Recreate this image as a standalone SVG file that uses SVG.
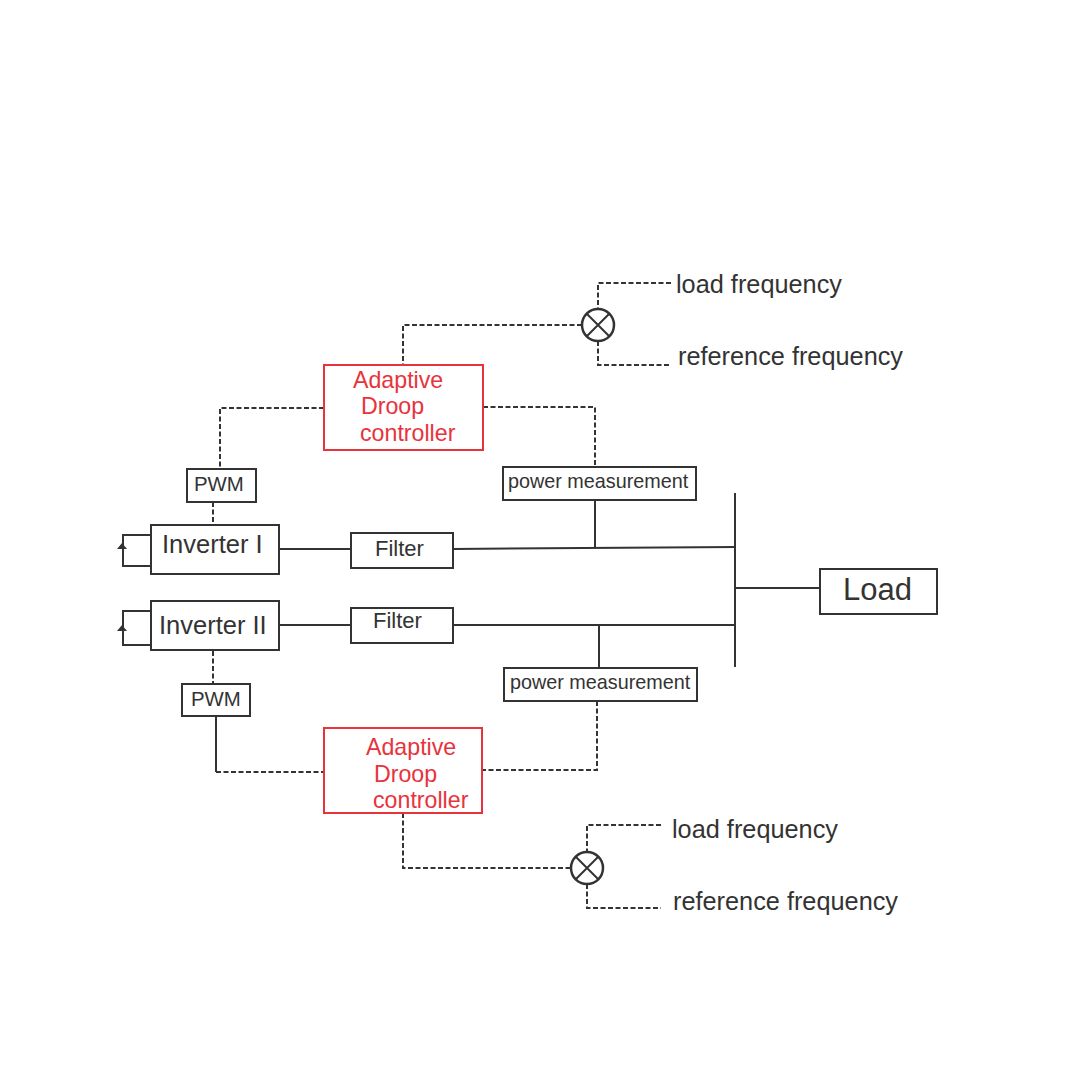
<svg xmlns="http://www.w3.org/2000/svg" width="1080" height="1080" viewBox="0 0 1080 1080">
<style>
text{font-family:"Liberation Sans",Arial,sans-serif;fill:#333}
.box{fill:#fff;stroke:#333;stroke-width:2}
.red{fill:#fff;stroke:#e8333c;stroke-width:2}
.s{fill:none;stroke:#333;stroke-width:2}
.d{fill:none;stroke:#333;stroke-width:2;stroke-dasharray:5 2.5}
.rt{fill:#e8333c;font-size:23.2px}
.lab{font-size:25.3px}
.m{font-size:20.4px}
.p{font-size:19.8px}
.i{font-size:25.5px}
.f{font-size:22px}
</style>
<rect width="1080" height="1080" fill="#fff"/>
<g id="connectors">
<path class="d" d="M671 283H598V311M598 341V365H671"/>
<path class="d" d="M582 325H403V365"/>
<path class="d" d="M324 408H220V469"/>
<path class="d" d="M483 407H595V467"/>
<path class="d" d="M213 502V525"/>
<path class="s" d="M595 500V548"/>
<path class="s" d="M279 549H351M453 549L736 547"/>
<path class="s" d="M279 625H351M453 625H736"/>
<path class="s" d="M735 493V667M736 588H820"/>
<path class="s" d="M599 625V668"/>
<path class="d" d="M213 651V684"/>
<path class="s" d="M216 716V772"/>
<path class="d" d="M216 772H324"/>
<path class="d" d="M597 701V770H483"/>
<path class="d" d="M403 813V868H571"/>
<path class="d" d="M661 825H587V852M587 884V908H661"/>
<path class="s" d="M151 535H123V566H151M151 611H123V645H151"/>
<path d="M122 543l-5 6h10zM122 625l-5 6h10z" fill="#333"/>
</g>
<g id="sum-top"><circle class="box" cx="598" cy="325" r="16" style="stroke-width:2.5"/><path class="s" d="M587 314L609 336M609 314L587 336"/></g>
<g id="sum-bottom"><circle class="box" cx="587" cy="868" r="16" style="stroke-width:2.5"/><path class="s" d="M576 857L598 879M598 857L576 879"/></g>
<g id="load-frequency-top"><text class="lab" x="676" y="293">load frequency</text></g>
<g id="reference-frequency-top"><text class="lab" x="678" y="365">reference frequency</text></g>
<g id="controller-top"><rect class="red" x="324" y="365" width="159" height="85"/>
<text class="rt" x="353" y="388">Adaptive</text><text class="rt" x="361" y="414">Droop</text><text class="rt" x="360" y="441">controller</text></g>
<g id="pwm-top"><rect class="box" x="187" y="469" width="69" height="33"/><text class="m" x="194" y="491">PWM</text></g>
<g id="power-top"><rect class="box" x="503" y="467" width="193" height="33"/><text class="p" x="508" y="488">power measurement</text></g>
<g id="inverter-1"><rect class="box" x="151" y="525" width="128" height="49"/><text class="i" x="162" y="553">Inverter I</text></g>
<g id="filter-1"><rect class="box" x="351" y="533" width="102" height="35"/><text class="f" x="375" y="556">Filter</text></g>
<g id="inverter-2"><rect class="box" x="151" y="601" width="128" height="49"/><text class="i" x="159" y="634">Inverter II</text></g>
<g id="filter-2"><rect class="box" x="351" y="608" width="102" height="35"/><text class="f" x="373" y="628">Filter</text></g>
<g id="load"><rect class="box" x="820" y="569" width="117" height="45"/><text x="843" y="600" font-size="31">Load</text></g>
<g id="power-bottom"><rect class="box" x="504" y="668" width="193" height="33"/><text class="p" x="510" y="689">power measurement</text></g>
<g id="pwm-bottom"><rect class="box" x="182" y="684" width="68" height="32"/><text class="m" x="191" y="706">PWM</text></g>
<g id="controller-bottom"><rect class="red" x="324" y="728" width="158" height="85"/>
<text class="rt" x="366" y="755">Adaptive</text><text class="rt" x="374" y="782">Droop</text><text class="rt" x="373" y="808">controller</text></g>
<g id="load-frequency-bottom"><text class="lab" x="672" y="838">load frequency</text></g>
<g id="reference-frequency-bottom"><text class="lab" x="673" y="910">reference frequency</text></g>
</svg>
